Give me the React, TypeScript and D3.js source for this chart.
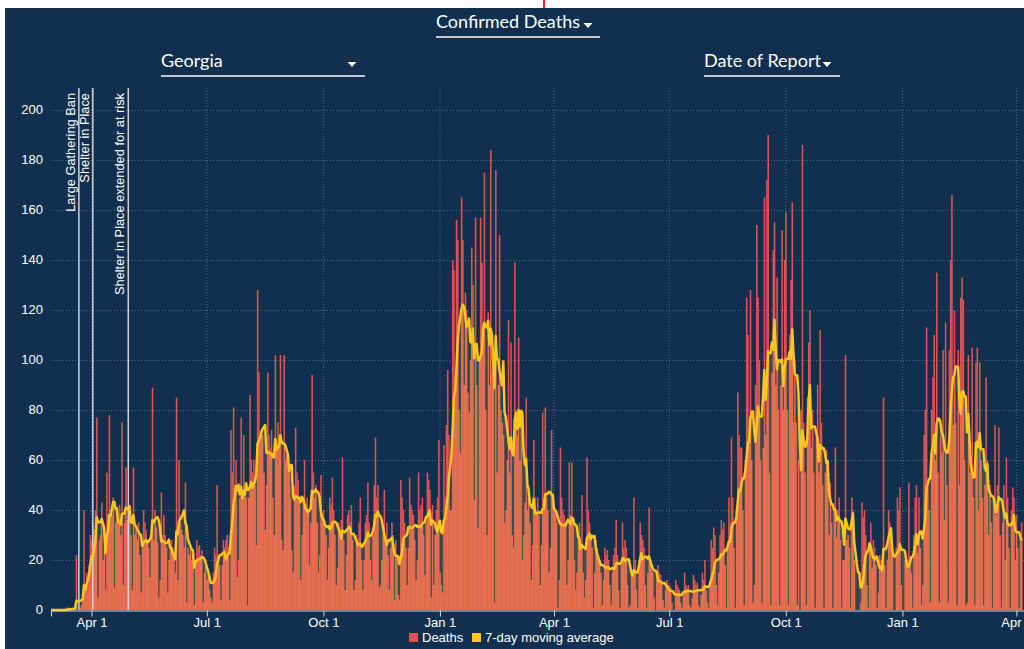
import React, { useEffect, useRef } from "react";
import * as d3 from "d3";

// first day of the series
const startDate = new Date(2020, 1, 29);

// daily confirmed deaths by date of report, Feb 29 – Dec 31 2020
const deaths2020 = [
  0,
  // Mar
  0, 0, 0, 0, 0, 0, 0, 0, 0, 0, 0, 1, 0, 1, 0, 0, 1, 0, 2, 22, 0, 0, 1, 2, 4, 40, 10, 15, 10, 18, 30,
  // Apr
  28, 35, 32, 40, 77, 5, 28, 30, 43, 20, 25, 8, 55, 38, 78, 40, 38, 45, 9, 35, 40, 38, 42, 30, 75, 10, 35, 57, 36, 38,
  // May
  40, 30, 8, 57, 30, 32, 28, 35, 22, 7, 25, 40, 35, 32, 28, 25, 13, 30, 89, 28, 40, 33, 27, 5, 12, 47, 30, 38, 30, 25, 7,
  // Jun
  20, 25, 28, 25, 22, 15, 85, 12, 60, 35, 32, 30, 25, 51, 3, 25, 22, 24, 20, 22, 2, 20, 28, 25, 26, 22, 24, 3, 15, 18,
  // Jul
  12, 15, 8, 5, 3, 15, 25, 22, 50, 20, 18, 4, 18, 28, 25, 28, 30, 25, 4, 72, 55, 81, 50, 60, 13, 20, 45, 77, 48, 70, 50,
  // Aug
  45, 2, 45, 86, 60, 55, 60, 50, 26, 128, 95, 68, 70, 70, 55, 32, 50, 95, 70, 65, 72, 45, 30, 102, 65, 75, 70, 102, 28, 24, 102,
  // Sep
  60, 62, 58, 55, 45, 24, 15, 50, 73, 55, 52, 45, 12, 30, 45, 60, 42, 45, 40, 18, 35, 94, 55, 45, 50, 35, 15, 22, 54, 38,
  // Oct
  40, 36, 30, 12, 25, 45, 42, 53, 40, 30, 10, 17, 35, 33, 36, 61, 28, 8, 22, 38, 40, 35, 42, 28, 8, 12, 30, 28, 35, 45, 20,
  // Nov
  8, 20, 35, 38, 51, 35, 20, 12, 30, 50, 69, 45, 50, 9, 10, 20, 30, 48, 30, 35, 22, 8, 25, 35, 30, 4, 28, 22, 6, 4,
  // Dec
  52, 45, 40, 35, 25, 10, 25, 53, 42, 40, 38, 28, 12, 20, 55, 40, 42, 45, 30, 14, 35, 55, 52, 48, 5, 42, 10, 30, 40, 45, 68,
];

const deaths2021 = [
  // Jan
  15, 10, 7, 66, 45, 74, 96, 70, 40, 40, 140, 136, 95, 156, 148, 80, 63, 165, 148, 90, 127, 120, 87, 79, 100, 145, 130, 44, 157, 90, 33,
  // Feb
  100, 157, 139, 110, 175, 80, 30, 119, 90, 184, 95, 100, 3, 176, 55, 90, 150, 80, 75, 70, 35, 40, 60, 116, 55, 107, 30, 25,
  // Mar
  139, 80, 70, 109, 60, 75, 20, 30, 43, 85, 40, 45, 35, 12, 26, 68, 45, 40, 45, 38, 10, 26, 79, 45, 81, 45, 40, 15, 25, 72, 45,
  // Apr
  42, 40, 35, 1, 12, 65, 45, 40, 38, 35, 10, 20, 59, 38, 59, 35, 20, 8, 15, 30, 35, 28, 46, 15, 5, 12, 61, 40, 35, 30,
  // May
  25, 1, 15, 28, 25, 22, 20, 15, 2, 12, 25, 22, 24, 20, 10, 2, 15, 22, 25, 36, 22, 8, 1, 18, 35, 25, 28, 25, 10, 1, 2,
  // Jun
  15, 14, 45, 20, 8, 1, 20, 35, 30, 28, 25, 10, 1, 15, 41, 18, 16, 15, 5, 0, 12, 18, 15, 14, 12, 4, 1, 8, 12, 10,
  // Jul
  10, 9, 3, 0, 0, 12, 10, 9, 8, 3, 1, 6, 15, 10, 9, 10, 2, 1, 5, 14, 12, 10, 11, 2, 1, 6, 15, 12, 20, 8, 3,
  // Aug
  1, 12, 28, 25, 33, 30, 10, 2, 15, 30, 36, 32, 35, 18, 1, 25, 45, 35, 69, 45, 25, 1, 40, 87, 70, 65, 65, 40, 2, 60, 125,
  // Sep
  110, 70, 128, 60, 3, 10, 90, 154, 125, 100, 60, 3, 65, 165, 70, 172, 190, 55, 2, 95, 144, 155, 90, 133, 80, 2, 90, 152, 80, 140,
  // Oct
  159, 80, 2, 110, 132, 163, 75, 100, 75, 2, 60, 0, 80, 186, 75, 55, 2, 85, 107, 120, 65, 80, 55, 1, 70, 90, 55, 112, 75, 50, 1,
  // Nov
  55, 64, 60, 30, 51, 35, 1, 40, 65, 29, 40, 45, 28, 1, 20, 20, 102, 28, 30, 25, 1, 45, 40, 20, 0, 0, 0, 0, 3, 43,
  // Dec
  37, 40, 30, 10, 1, 25, 35, 17, 28, 25, 18, 1, 7, 22, 20, 18, 85, 18, 1, 20, 40, 35, 30, 25, 0, 0, 25, 45, 40, 49, 10,
];

const deaths2022 = [
  // Jan
  0, 0, 20, 22, 20, 51, 20, 15, 1, 30, 45, 50, 23, 45, 25, 2, 10, 70, 80, 113, 52, 40, 3, 80, 93, 110, 60, 135, 55, 3, 70,
  // Feb
  63, 104, 36, 115, 50, 3, 104, 140, 166, 74, 120, 75, 2, 104, 50, 125, 133, 124, 60, 2, 3, 102, 55, 60, 105, 45, 2, 99,
  // Mar
  105, 40, 99, 60, 45, 2, 50, 93, 60, 30, 50, 35, 1, 45, 74, 38, 50, 73, 30, 1, 35, 50, 20, 61, 45, 25, 1, 40, 49, 45, 20,
  // Apr
  38, 25, 1, 30, 35,
];

const yTicks = [0, 20, 40, 60, 80, 100, 120, 140, 160, 180, 200];

const annotations = [
  { date: new Date(2020, 2, 22), label: "Large Gathering Ban" },
  { date: new Date(2020, 3, 2), label: "Shelter in Place" },
  { date: new Date(2020, 3, 30), label: "Shelter in Place extended for at risk" },
];

const BG = "#11304f";
const RED = "#e0534f";
const ORANGE = "#e56f4f";
const DARK = "#4f5b56";
const YELLOW = "#fcc41c";
const FONT = "Arial, 'Liberation Sans', sans-serif";

export default function App() {
  const chartRef = useRef<SVGSVGElement>(null);

  useEffect(() => {
    drawChart();
  }, []);

  const drawChart = () => {
    const width = 1024;
    const height = 649;
    const top = 88;

    const svg = d3.select(chartRef.current);
    svg.selectAll("*").remove();

    // page strip and dark panel
    svg.append("rect").attr("width", width).attr("height", height).attr("fill", "#fff");
    svg.append("rect").attr("x", 543).attr("y", 0).attr("width", 2).attr("height", 8).attr("fill", "#e8201c");
    svg.append("rect").attr("x", 5).attr("y", 8).attr("width", width - 5).attr("height", height - 8).attr("fill", BG);

    const values = [...deaths2020, ...deaths2021, ...deaths2022];
    const data = values.map((v, i) => {
      const win = values.slice(Math.max(0, i - 6), i + 1);
      return {
        date: d3.timeDay.offset(startDate, i),
        value: v,
        avg: d3.sum(win) / 7,
      };
    });

    const x = d3
      .scaleTime()
      .domain([startDate, new Date(2022, 3, 7)])
      .range([51, width]);

    const y = d3.scaleLinear().domain([0, 200]).range([610, 110]);

    const xTicks = x.ticks(d3.timeMonth.every(3));

    // grid
    const grid = svg.append("g").attr("stroke", "rgba(255,255,255,0.28)").attr("stroke-dasharray", "1,2");
    grid
      .selectAll("line.h")
      .data(yTicks.filter((d) => d > 0))
      .enter()
      .append("line")
      .attr("x1", 51)
      .attr("x2", width)
      .attr("y1", (d) => y(d) + 0.5)
      .attr("y2", (d) => y(d) + 0.5);
    grid
      .selectAll("line.v")
      .data(xTicks)
      .enter()
      .append("line")
      .attr("x1", (d) => x(d))
      .attr("x2", (d) => x(d))
      .attr("y1", top)
      .attr("y2", y(0));

    // y labels
    svg
      .append("g")
      .selectAll("text")
      .data(yTicks)
      .enter()
      .append("text")
      .attr("x", 43)
      .attr("y", (d) => y(d))
      .attr("dy", "0.34em")
      .attr("text-anchor", "end")
      .attr("fill", "#fff")
      .style("font", `13px ${FONT}`)
      .text((d) => d);

    // bars: orange up to the average, red above it, dark where the day falls short
    const bw = x(d3.timeDay.offset(startDate, 1)) - x(startDate);
    const bars = svg.append("g");
    bars
      .selectAll("rect.base")
      .data(data)
      .enter()
      .append("rect")
      .attr("x", (d) => x(d.date) - bw / 2)
      .attr("width", bw + 0.5)
      .attr("y", (d) => y(Math.min(d.value, d.avg)))
      .attr("height", (d) => y(0) - y(Math.min(d.value, d.avg)))
      .attr("fill", ORANGE);
    bars
      .selectAll("rect.top")
      .data(data.filter((d) => d.value > d.avg))
      .enter()
      .append("rect")
      .attr("x", (d) => x(d.date) - bw / 2)
      .attr("width", bw + 0.3)
      .attr("y", (d) => y(d.value))
      .attr("height", (d) => y(d.avg) - y(d.value))
      .attr("fill", RED);
    bars
      .selectAll("rect.gap")
      .data(data.filter((d) => d.value < d.avg))
      .enter()
      .append("rect")
      .attr("x", (d) => x(d.date) - 0.4)
      .attr("width", 0.8)
      .attr("y", (d) => y(d.avg))
      .attr("height", (d) => y(d.value) - y(d.avg))
      .attr("fill", DARK);

    // annotations
    const ann = svg.append("g");
    ann
      .selectAll("line")
      .data(annotations)
      .enter()
      .append("line")
      .attr("x1", (d) => x(d.date))
      .attr("x2", (d) => x(d.date))
      .attr("y1", top)
      .attr("y2", y(0))
      .attr("stroke", "#cfd3d8")
      .attr("stroke-width", 1.5);
    ann
      .selectAll("text")
      .data(annotations)
      .enter()
      .append("text")
      .attr("transform", (d) => `translate(${x(d.date) - 4},93) rotate(-90)`)
      .attr("text-anchor", "end")
      .attr("fill", "#fff")
      .style("font", `12.8px ${FONT}`)
      .text((d) => d.label);

    // 7-day moving average
    const line = d3
      .line<{ date: Date; avg: number }>()
      .x((d) => x(d.date))
      .y((d) => y(d.avg));
    svg
      .append("path")
      .datum(data)
      .attr("d", line)
      .attr("fill", "none")
      .attr("stroke", YELLOW)
      .attr("stroke-width", 2.5)
      .attr("stroke-linejoin", "round");

    // x axis
    const xAxis = svg
      .append("g")
      .attr("transform", `translate(0,${y(0) + 0.5})`)
      .call(
        d3
          .axisBottom(x)
          .ticks(d3.timeMonth.every(3))
          .tickFormat((d) => d3.timeFormat("%b %-d")(d as Date))
      );
    xAxis.selectAll("path, line").attr("stroke", "#d6d9dd");
    xAxis.selectAll("text").attr("fill", "#fff").attr("dy", "0.55em").style("font", `13px ${FONT}`);

    // legend
    const legend = svg.append("g").style("font", `13px ${FONT}`).attr("fill", "#fff");
    legend.append("rect").attr("x", 409).attr("y", 633).attr("width", 9).attr("height", 9).attr("fill", RED);
    legend.append("text").attr("x", 422).attr("y", 642).text("Deaths");
    legend.append("rect").attr("x", 472).attr("y", 633).attr("width", 9).attr("height", 9).attr("fill", YELLOW);
    legend.append("text").attr("x", 485).attr("y", 642).text("7-day moving average");

    // dropdown controls
    const controls = [
      { label: "Confirmed Deaths", x: 436, y: 28, w: 164, arrow: 588 },
      { label: "Georgia", x: 161, y: 67, w: 204, arrow: 352 },
      { label: "Date of Report", x: 704, y: 67, w: 136, arrow: 827 },
    ];
    const ctl = svg.append("g");
    controls.forEach((c) => {
      ctl
        .append("text")
        .attr("x", c.x)
        .attr("y", c.y)
        .attr("fill", "#fff")
        .style("font", "18px Lato, 'Open Sans', sans-serif")
        .text(c.label);
      ctl
        .append("path")
        .attr("d", `M${c.arrow - 4.5},${c.y - 5}L${c.arrow + 4.5},${c.y - 5}L${c.arrow},${c.y}Z`)
        .attr("fill", "#fff");
      ctl
        .append("line")
        .attr("x1", c.x)
        .attr("x2", c.x + c.w)
        .attr("y1", c.y + 9)
        .attr("y2", c.y + 9)
        .attr("stroke", "#c4c9cf")
        .attr("stroke-width", 2);
    });
  };

  return (
    <>
      <style>{`body{margin:0;background:#fff}`}</style>
      <svg ref={chartRef} width={1024} height={649} style={{ display: "block" }}></svg>
    </>
  );
}
